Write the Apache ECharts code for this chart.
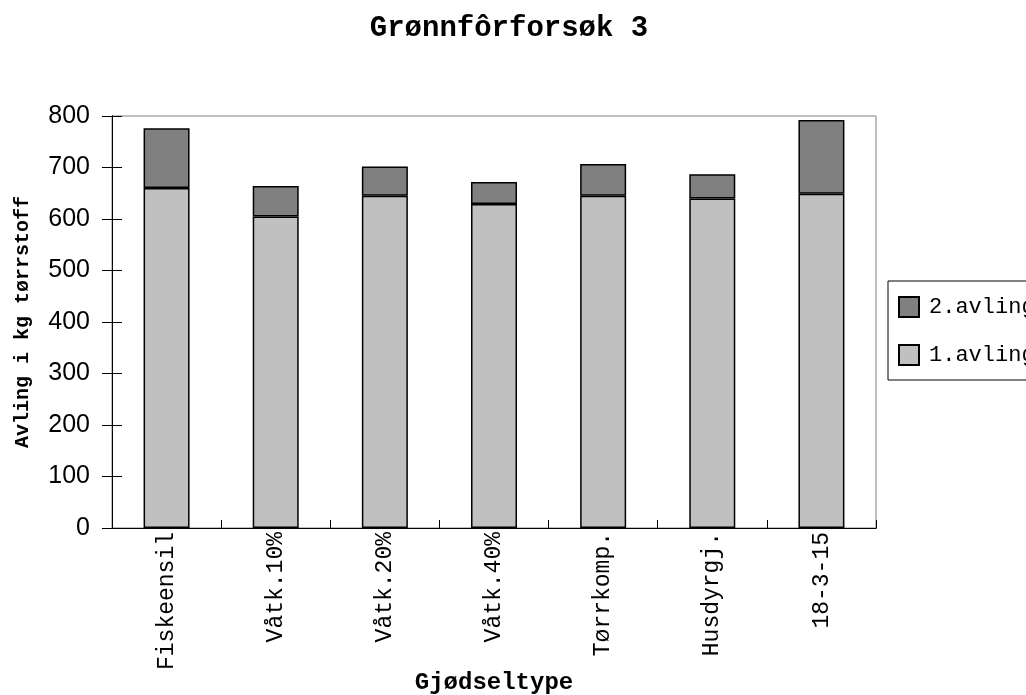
<!DOCTYPE html>
<html>
<head>
<meta charset="utf-8">
<script src="https://cdn.jsdelivr.net/npm/echarts@6/dist/echarts.min.js"></script>
<style>
    html, body { margin: 0; padding: 0; background: #fff; }
    #chart { width: 1026px; height: 695px; }
</style>
</head>
<body>
<div id="chart"></div>
<script>
const categories = ['Fiskeensil', 'Våtk.10%', 'Våtk.20%', 'Våtk.40%', 'Tørrkomp.', 'Husdyrgj.', '18-3-15'];
const avling1 = [660, 605, 645, 629, 645, 640, 649];
const avling2 = [116, 59, 57, 43, 62, 47, 143];
const yTicks = { min: 0, max: 800, interval: 100 };

const mono = '"Liberation Mono", "DejaVu Sans Mono", monospace';
const sans = '"Liberation Sans", Arial, sans-serif';

const chart = echarts.init(document.getElementById('chart'), null, { renderer: 'canvas' });

const barStyle = (color) => ({ color, borderColor: '#000', borderWidth: 1.5 });
const plotRect = { left: 112, right: 150, top: 116, bottom: 167, outerBoundsMode: 'none' };
const black = { color: '#000', width: 1 };

chart.setOption({
    animation: false,
    title: {
        text: 'Grønnfôrforsøk 3',
        left: 504,
        top: 9,
        textAlign: 'center',
        textStyle: { fontFamily: mono, fontWeight: 'bold', fontSize: 29, color: '#000' }
    },
    legend: {
        orient: 'vertical',
        left: 888,
        top: 281,
        data: ['2.avling', '1.avling'],
        icon: 'rect',
        itemWidth: 20,
        itemHeight: 20,
        itemGap: 26,
        padding: [15, 12, 14, 10],
        borderColor: '#000',
        borderWidth: 1,
        backgroundColor: '#fff',
        textStyle: { fontFamily: mono, fontSize: 22, color: '#000', padding: [0, 0, 0, 5] }
    },
    grid: [
        Object.assign({ show: true, borderColor: '#808080', borderWidth: 1, backgroundColor: 'transparent' }, plotRect),
        Object.assign({ show: false }, plotRect)
    ],
    xAxis: [
        {
            type: 'category',
            gridIndex: 0,
            data: categories,
            name: 'Gjødseltype',
            nameLocation: 'middle',
            nameGap: 143,
            nameMoveOverlap: false,
            nameTextStyle: { fontFamily: mono, fontWeight: 'bold', fontSize: 24, color: '#000' },
            axisLine: { lineStyle: black },
            axisTick: { length: 8, lineStyle: black },
            axisLabel: { rotate: 90, margin: 4, fontFamily: mono, fontSize: 23, color: '#000', interval: 0 }
        },
        {
            // inner half of the crossing ticks
            type: 'category',
            gridIndex: 1,
            data: categories,
            axisLine: { show: true, lineStyle: black },
            axisTick: { show: true, inside: true, length: 8, lineStyle: black },
            axisLabel: { show: false }
        }
    ],
    yAxis: [
        {
            type: 'value',
            gridIndex: 0,
            min: yTicks.min, max: yTicks.max, interval: yTicks.interval,
            name: 'Avling i kg tørrstoff',
            nameLocation: 'middle',
            nameRotate: 90,
            nameGap: 79,
            nameMoveOverlap: false,
            nameTextStyle: { fontFamily: mono, fontWeight: 'bold', fontSize: 20, color: '#000' },
            axisLine: { show: true, lineStyle: black },
            axisTick: { show: true, length: 10, lineStyle: black },
            axisLabel: { margin: 22, fontFamily: sans, fontSize: 25, color: '#000' },
            splitLine: { show: false }
        },
        {
            type: 'value',
            gridIndex: 1,
            min: yTicks.min, max: yTicks.max, interval: yTicks.interval,
            axisLine: { show: true, lineStyle: black },
            axisTick: { show: true, inside: true, length: 10, lineStyle: black },
            axisLabel: { show: false },
            splitLine: { show: false }
        }
    ],
    series: [
        {
            name: '1.avling',
            type: 'bar',
            stack: 'total',
            barWidth: 46,
            itemStyle: barStyle('#c0c0c0'),
            data: avling1
        },
        {
            name: '2.avling',
            type: 'bar',
            stack: 'total',
            barWidth: 46,
            itemStyle: barStyle('#808080'),
            data: avling2
        }
    ]
});
</script>
</body>
</html>
